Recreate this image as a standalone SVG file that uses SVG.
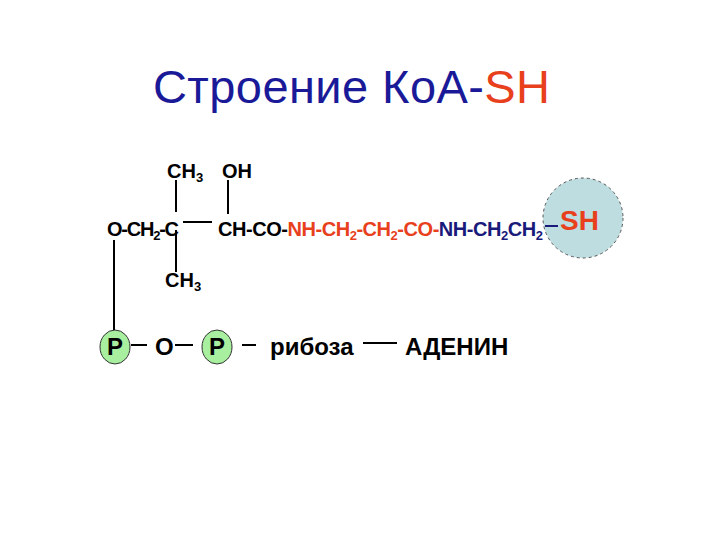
<svg xmlns="http://www.w3.org/2000/svg" width="720" height="540" viewBox="0 0 720 540">
<style>
text{font-family:"Liberation Sans",Arial,sans-serif;font-weight:bold;font-size:20px}
.t{font-weight:normal;font-size:47px}
.big{font-size:24px}
.r{fill:#e8401c}.b{fill:#1a1a7a}
.s{font-size:13px}
line{stroke:#000;stroke-width:2}
.g{fill:#a8f0a0;stroke:#333;stroke-width:1}
</style>
<rect width="720" height="540" fill="#fff"/>
<text class="t" x="153" y="103" textLength="397"><tspan fill="#1a1a99">Строение КоА-</tspan><tspan fill="#e8401c">SH</tspan></text>
<g id="sh"><circle cx="583" cy="218" r="40" fill="#bddde0" stroke="#555" stroke-width="1" stroke-dasharray="3,3"/><text x="560" y="230" class="r" style="font-size:28px">SH</text></g>
<g id="chain">
<text x="107" y="236" textLength="72">O-CH<tspan class="s" dy="4">2</tspan><tspan dy="-4">-C</tspan></text>
<text x="218" y="236" textLength="325">CH-CO-<tspan class="r">NH-CH<tspan class="s" dy="4">2</tspan><tspan dy="-4">-CH</tspan><tspan class="s" dy="4">2</tspan><tspan dy="-4">-CO-</tspan></tspan><tspan class="b">NH-CH<tspan class="s" dy="4">2</tspan><tspan dy="-4">CH</tspan><tspan class="s" dy="4">2</tspan></tspan></text>
<text x="167" y="178">CH<tspan class="s" dy="4">3</tspan></text>
<text x="222" y="178">OH</text>
<text x="165" y="287">CH<tspan class="s" dy="4">3</tspan></text>
</g>
<g id="p1"><ellipse class="g" cx="115" cy="347" rx="15" ry="17"/><text class="big" x="107" y="355">P</text></g>
<text class="big" x="155" y="355">O</text>
<g id="p2"><ellipse class="g" cx="217" cy="347" rx="15" ry="17"/><text class="big" x="209" y="355">P</text></g>
<text class="big" x="270" y="355">рибоза</text>
<text class="big" x="405" y="355">АДЕНИН</text>
<g id="connectors">
<line x1="183" y1="222" x2="212" y2="222"/>
<line x1="176" y1="180" x2="176" y2="212"/>
<line x1="176" y1="230" x2="176" y2="272"/>
<line x1="228" y1="180" x2="228" y2="214"/>
<line x1="114" y1="240" x2="114" y2="330"/>
<line x1="131" y1="345" x2="147" y2="345"/>
<line x1="175" y1="345" x2="193" y2="345"/>
<line x1="242" y1="345" x2="256" y2="345"/>
<line x1="363" y1="343" x2="397" y2="343"/>
<line x1="545" y1="226" x2="558" y2="226" style="stroke:#1a1a7a"/>
</g>
</svg>
